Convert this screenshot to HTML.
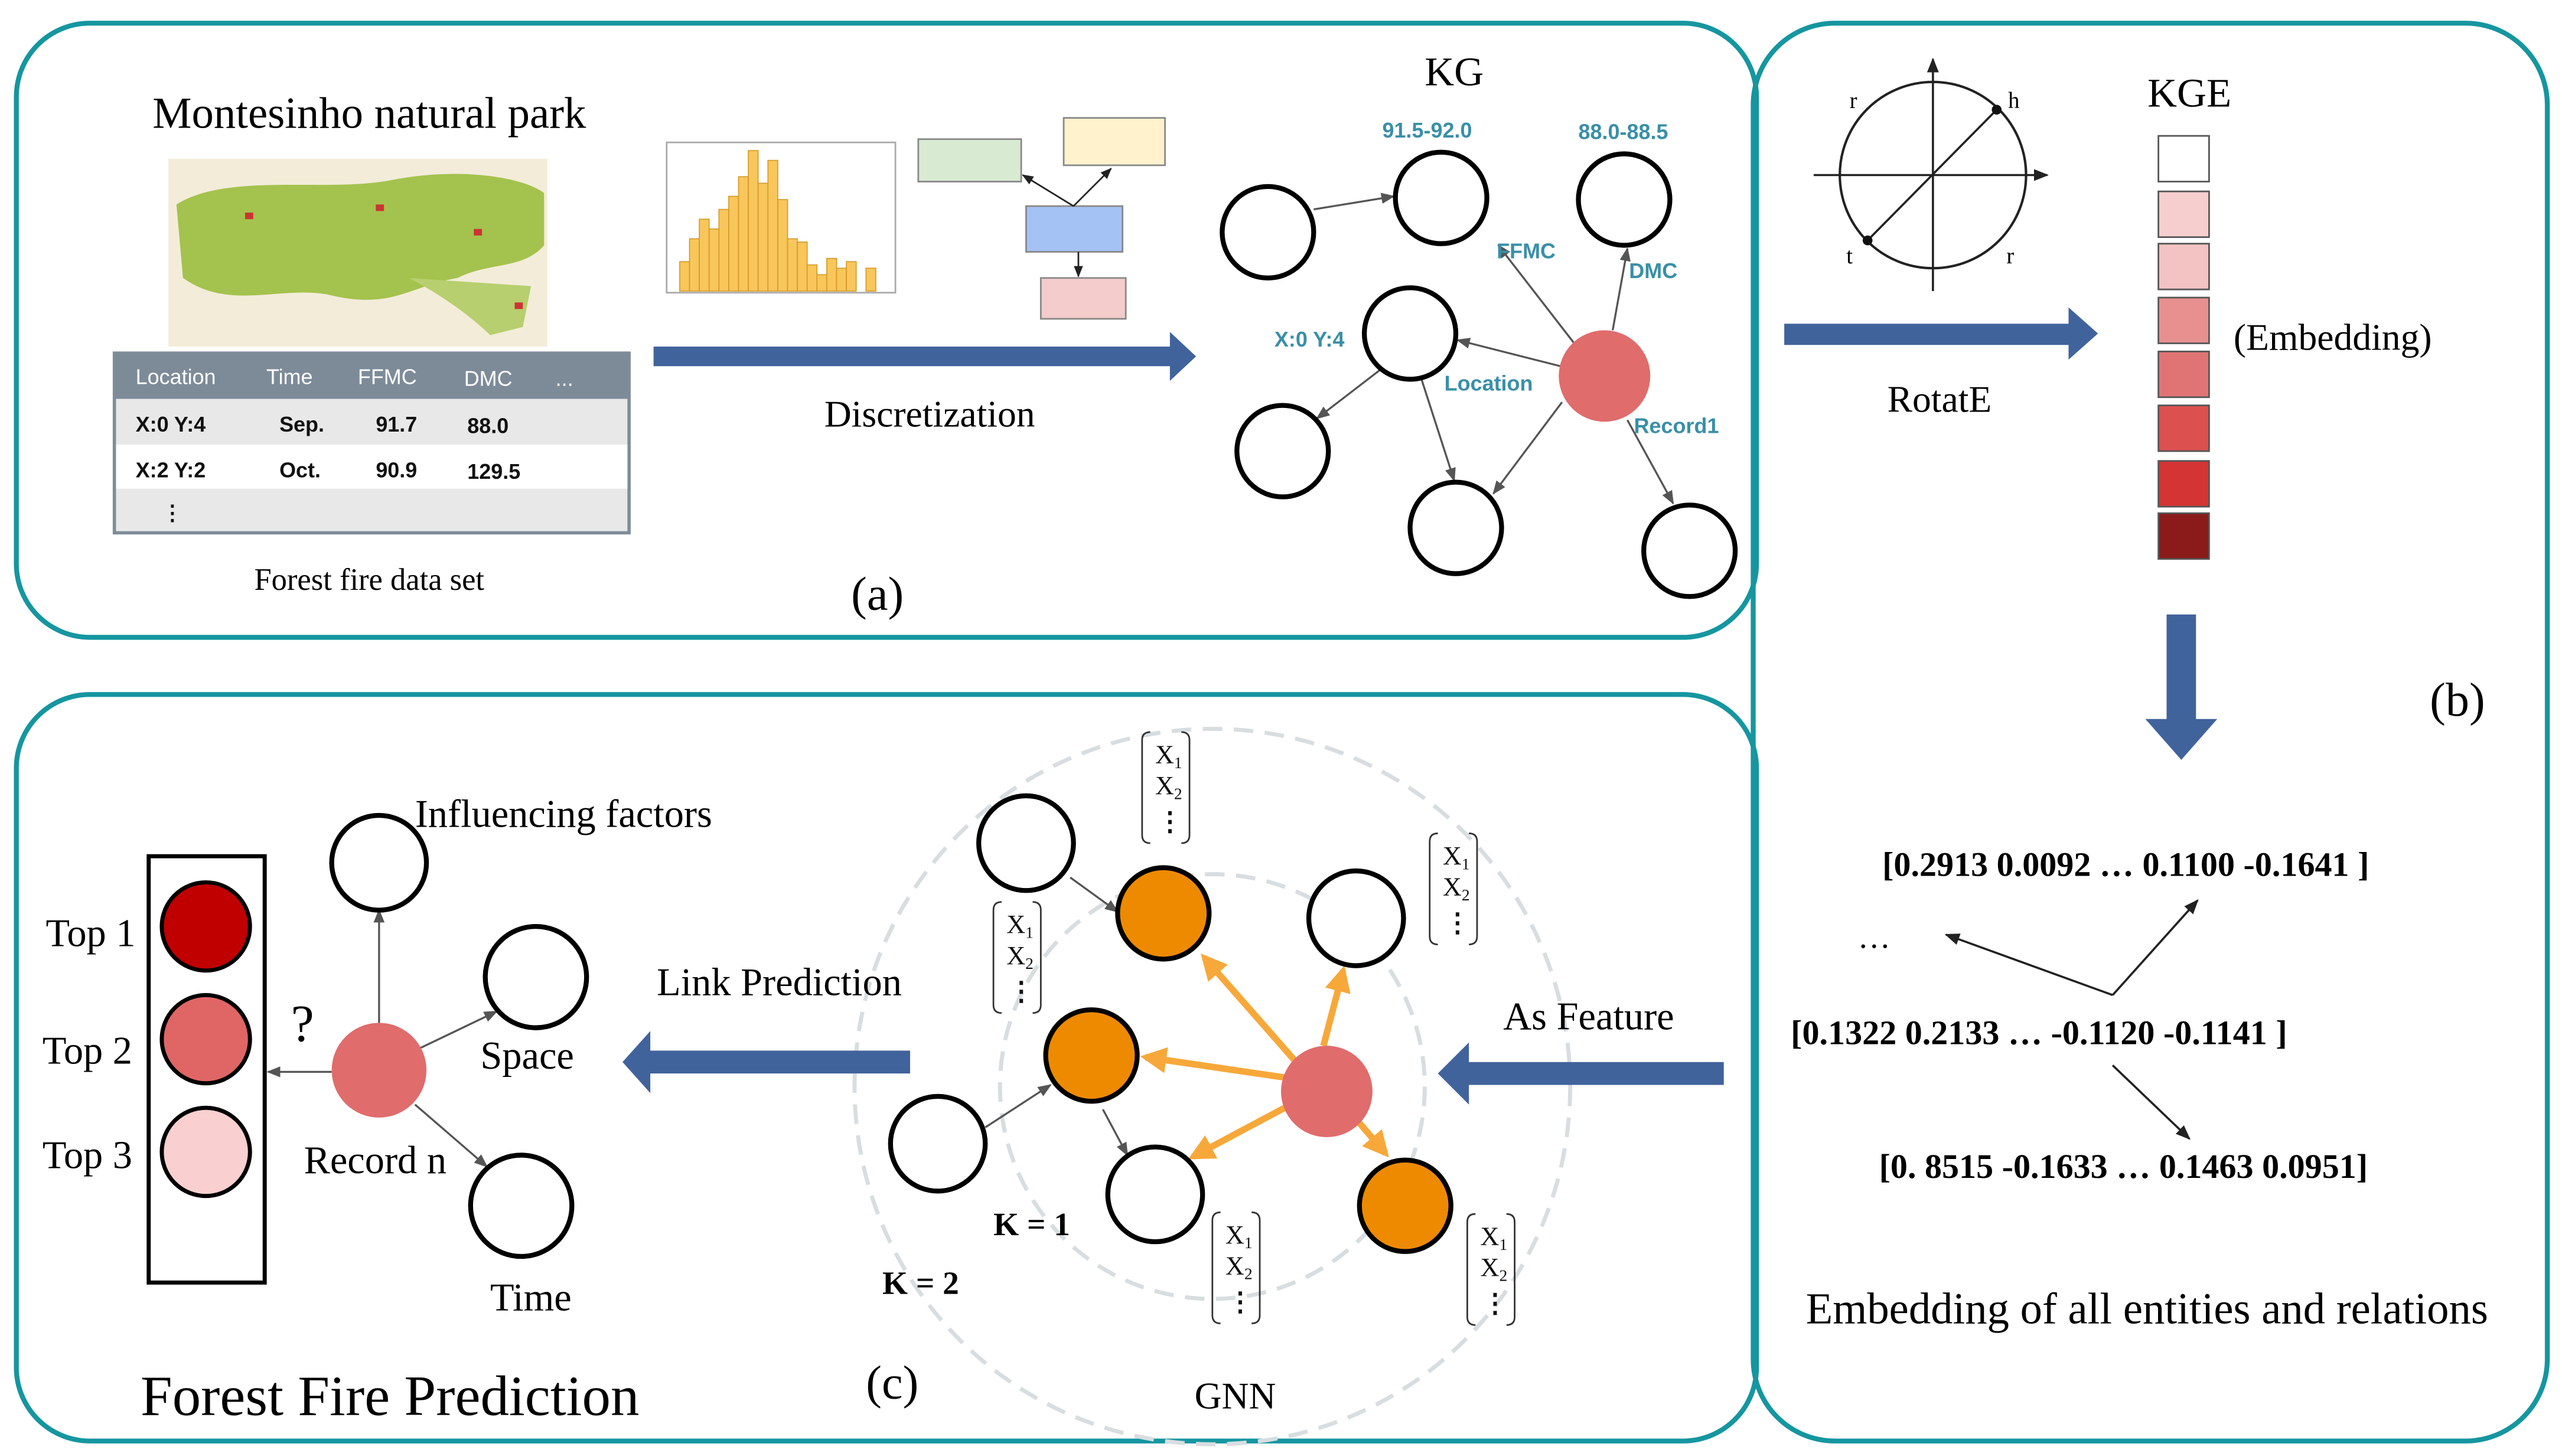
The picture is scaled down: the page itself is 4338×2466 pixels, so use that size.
<!DOCTYPE html>
<html><head><meta charset="utf-8"><style>html,body{margin:0;padding:0;background:#fff}svg{display:block}</style></head><body>
<svg width="4338" height="2466" viewBox="0 0 1568 891" xmlns="http://www.w3.org/2000/svg" font-family="'Liberation Serif', serif">
<defs>
<marker id="ag" viewBox="0 0 10 10" refX="9" refY="5" markerWidth="7" markerHeight="7" orient="auto"><path d="M0,1 L10,5 L0,9 z" fill="#555"/></marker>
<marker id="ak" viewBox="0 0 10 10" refX="9" refY="5" markerWidth="7" markerHeight="7" orient="auto"><path d="M0,1 L10,5 L0,9 z" fill="#222"/></marker>
<marker id="ao" viewBox="0 0 10 10" refX="8" refY="5" markerWidth="4" markerHeight="4" orient="auto"><path d="M0,0 L10,5 L0,10 z" fill="#f7a83a"/></marker>
</defs>
<rect x="10" y="14" width="1065" height="376" rx="45" fill="none" stroke="#1596a0" stroke-width="3"/>
<rect x="1073" y="14" width="486" height="868" rx="50" fill="none" stroke="#1596a0" stroke-width="3"/>
<rect x="10" y="425" width="1065" height="457" rx="45" fill="none" stroke="#1596a0" stroke-width="3"/>

<text x="226" y="78" font-size="27" text-anchor="middle">Montesinho natural park</text>
<rect x="103" y="97" width="232" height="115" fill="#f3ecd9"/>
<path d="M108,125 C140,105 200,118 240,110 C280,102 320,108 333,118 L333,150 C320,165 300,160 280,170 C250,175 240,190 200,180 C170,175 140,190 112,170 Z" fill="#a4c24e"/>
<path d="M250,170 C270,180 290,195 300,205 L320,200 L325,175 Z" fill="#b7cf6e"/>
<g fill="#c33"><rect x="150" y="130" width="5" height="4"/><rect x="230" y="125" width="5" height="4"/><rect x="290" y="140" width="5" height="4"/><rect x="315" y="185" width="5" height="4"/></g>
<rect x="70" y="216" width="315" height="110" fill="#e8e8e8" stroke="#7f8c99" stroke-width="2"/>
<rect x="70" y="216" width="315" height="28" fill="#7d8b99"/>
<rect x="71" y="272" width="313" height="27" fill="#fff"/>
<g font-family="'Liberation Sans', sans-serif" font-size="13" fill="#fff"><text x="83" y="235">Location</text><text x="163" y="235">Time</text><text x="219" y="235">FFMC</text><text x="284" y="236">DMC</text><text x="340" y="236">...</text></g>
<g font-family="'Liberation Sans', sans-serif" font-size="13" font-weight="bold" fill="#111"><text x="83" y="264">X:0 Y:4</text><text x="171" y="264">Sep.</text><text x="230" y="264">91.7</text><text x="286" y="265">88.0</text>
<text x="83" y="292">X:2 Y:2</text><text x="171" y="292">Oct.</text><text x="230" y="292">90.9</text><text x="286" y="293">129.5</text><text x="99" y="318">⋮</text></g>
<text x="226" y="361" font-size="19" text-anchor="middle">Forest fire data set</text>
<rect x="408" y="87" width="140" height="92" fill="#fff" stroke="#aaa" stroke-width="1"/>
<g fill="#f8c65a" stroke="#d49a2a" stroke-width="0.6">
<rect x="416" y="160" width="6" height="18"/><rect x="422" y="146" width="6" height="32"/><rect x="428" y="134" width="6" height="44"/><rect x="434" y="140" width="6" height="38"/><rect x="440" y="128" width="6" height="50"/><rect x="446" y="120" width="6" height="58"/><rect x="452" y="108" width="6" height="70"/><rect x="458" y="92" width="6" height="86"/><rect x="464" y="112" width="6" height="66"/><rect x="470" y="98" width="6" height="80"/><rect x="476" y="122" width="6" height="56"/><rect x="482" y="146" width="6" height="32"/><rect x="488" y="148" width="6" height="30"/><rect x="494" y="162" width="6" height="16"/><rect x="500" y="168" width="6" height="10"/><rect x="506" y="158" width="6" height="20"/><rect x="512" y="164" width="6" height="14"/><rect x="518" y="160" width="6" height="18"/><rect x="530" y="164" width="6" height="14"/></g>
<rect x="562" y="85" width="63" height="26" fill="#d9ead3" stroke="#888"/>
<rect x="651" y="72" width="62" height="29" fill="#fff2cc" stroke="#888"/>
<rect x="628" y="126" width="59" height="28" fill="#a4c2f4" stroke="#888"/>
<rect x="637" y="170" width="52" height="25" fill="#f4cccc" stroke="#888"/>
<line x1="657" y1="126" x2="626" y2="107" stroke="#222" marker-end="url(#ak)"/>
<line x1="657" y1="126" x2="680" y2="103" stroke="#222" marker-end="url(#ak)"/>
<line x1="660" y1="154" x2="660" y2="169" stroke="#222" marker-end="url(#ak)"/>
<rect x="400" y="212" width="318" height="12" fill="#41639c"/><path d="M716,203 L732,218 L716,233 Z" fill="#41639c"/>
<text x="569" y="261" font-size="23" text-anchor="middle">Discretization</text>
<text x="537" y="373" font-size="29" text-anchor="middle">(a)</text>
<text x="890" y="52" font-size="25" text-anchor="middle">KG</text>
<g stroke="#555" stroke-width="1.2" marker-end="url(#ag)">
<line x1="804" y1="128" x2="853" y2="120"/>
<line x1="965" y1="212" x2="917" y2="150"/>
<line x1="987" y1="202" x2="996" y2="152"/>
<line x1="955" y1="224" x2="892" y2="208"/>
<line x1="956" y1="246" x2="914" y2="302"/>
<line x1="996" y1="257" x2="1024" y2="308"/>
<line x1="845" y1="226" x2="806" y2="256"/>
<line x1="870" y1="232" x2="890" y2="294"/>
</g>
<g fill="#fff" stroke="#000" stroke-width="3">
<circle cx="776" cy="142" r="28"/><circle cx="882" cy="121" r="28"/><circle cx="994" cy="122" r="28"/><circle cx="863" cy="204" r="28"/><circle cx="785" cy="276" r="28"/><circle cx="891" cy="323" r="28"/><circle cx="1034" cy="337" r="28"/></g>
<circle cx="982" cy="230" r="28" fill="#e06c6c"/>
<g font-family="'Liberation Sans', sans-serif" font-size="13" font-weight="bold" fill="#3a8fa8">
<text x="846" y="84">91.5-92.0</text><text x="966" y="85">88.0-88.5</text><text x="916" y="158">FFMC</text><text x="997" y="170">DMC</text><text x="780" y="212">X:0 Y:4</text><text x="884" y="239">Location</text><text x="1000" y="265">Record1</text></g>

<circle cx="1183" cy="107" r="57" fill="none" stroke="#222" stroke-width="1.5"/>
<line x1="1110" y1="107" x2="1253" y2="107" stroke="#222" stroke-width="1.3" marker-end="url(#ak)"/>
<line x1="1183" y1="178" x2="1183" y2="36" stroke="#222" stroke-width="1.3" marker-end="url(#ak)"/>
<line x1="1143" y1="147" x2="1222" y2="67" stroke="#222" stroke-width="1.3"/>
<circle cx="1222" cy="67" r="3" fill="#111"/><circle cx="1143" cy="147" r="3" fill="#111"/>
<g font-size="14"><text x="1132" y="66">r</text><text x="1229" y="66">h</text><text x="1130" y="161">t</text><text x="1228" y="161">r</text></g>
<text x="1340" y="65" font-size="25" text-anchor="middle">KGE</text>
<g stroke="#555" stroke-width="1">
<rect x="1321" y="83" width="31" height="28" fill="#fff"/>
<rect x="1321" y="117" width="31" height="28" fill="#f6cece"/>
<rect x="1321" y="149" width="31" height="28" fill="#f3c2c2"/>
<rect x="1321" y="182" width="31" height="28" fill="#e89090"/>
<rect x="1321" y="215" width="31" height="28" fill="#e07474"/>
<rect x="1321" y="248" width="31" height="28" fill="#dc5050"/>
<rect x="1321" y="282" width="31" height="28" fill="#d43434"/>
<rect x="1321" y="314" width="31" height="28" fill="#8b1b1b"/></g>
<text x="1367" y="214" font-size="23">(Embedding)</text>
<rect x="1092" y="198" width="176" height="13" fill="#41639c"/><path d="M1266,188 L1284,204 L1266,220 Z" fill="#41639c"/>
<text x="1187" y="252" font-size="23" text-anchor="middle">RotatE</text>
<rect x="1326" y="376" width="18" height="66" fill="#41639c"/><path d="M1313,440 L1357,440 L1335,465 Z" fill="#41639c"/>
<text x="1504" y="438" font-size="29" text-anchor="middle">(b)</text>
<g font-size="21" font-weight="bold">
<text x="1152" y="536">[0.2913 0.0092 … 0.1100 -0.1641 ]</text>
<text x="1096" y="639">[0.1322 0.2133 … -0.1120 -0.1141 ]</text>
<text x="1150" y="721">[0. 8515 -0.1633 … 0.1463 0.0951]</text></g>
<text x="1137" y="580" font-size="20">…</text>
<g stroke="#222" stroke-width="1.3" marker-end="url(#ak)">
<line x1="1293" y1="609" x2="1345" y2="551"/><line x1="1293" y1="609" x2="1191" y2="572"/><line x1="1293" y1="652" x2="1340" y2="697"/></g>
<text x="1314" y="810" font-size="27" text-anchor="middle">Embedding of all entities and relations</text>

<circle cx="742" cy="665" r="219" fill="none" stroke="#d8dde0" stroke-width="2.5" stroke-dasharray="12,7"/>
<circle cx="742" cy="665" r="130" fill="none" stroke="#d8dde0" stroke-width="2.5" stroke-dasharray="12,7"/>
<rect x="91" y="524" width="71" height="261" fill="#fff" stroke="#000" stroke-width="2.5"/>
<g stroke="#000" stroke-width="2.5"><circle cx="126" cy="567" r="27" fill="#c00000"/><circle cx="126" cy="636" r="27" fill="#e06666"/><circle cx="126" cy="705" r="27" fill="#f9cfcf"/></g>
<g font-size="24"><text x="28" y="579">Top 1</text><text x="26" y="651">Top 2</text><text x="26" y="715">Top 3</text></g>
<g stroke="#555" stroke-width="1.2" marker-end="url(#ag)">
<line x1="232" y1="626" x2="232" y2="557"/><line x1="203" y1="656" x2="164" y2="656"/><line x1="256" y1="642" x2="304" y2="619"/><line x1="254" y1="676" x2="298" y2="714"/></g>
<g fill="#fff" stroke="#000" stroke-width="3"><circle cx="232" cy="528" r="29"/><circle cx="328" cy="598" r="31"/><circle cx="319" cy="738" r="31"/></g>
<circle cx="232" cy="655" r="29" fill="#e06c6c"/>
<g font-size="24"><text x="254" y="506">Influencing factors</text><text x="178" y="637" font-size="32">?</text><text x="294" y="654">Space</text><text x="186" y="718">Record n</text><text x="300" y="802">Time</text><text x="402" y="609">Link Prediction</text><text x="920" y="630">As Feature</text></g>
<text x="86" y="866" font-size="35">Forest Fire Prediction</text>
<text x="530" y="856" font-size="29">(c)</text>
<text x="756" y="862" font-size="23" text-anchor="middle">GNN</text>
<rect x="396" y="643" width="161" height="14" fill="#41639c"/><path d="M398,631 L381,650 L398,669 Z" fill="#41639c"/>
<rect x="897" y="650" width="158" height="14" fill="#41639c"/><path d="M899,638 L880,657 L899,676 Z" fill="#41639c"/>
<g stroke="#555" stroke-width="1.2" marker-end="url(#ag)">
<line x1="655" y1="537" x2="684" y2="558"/><line x1="603" y1="690" x2="643" y2="664"/><line x1="675" y1="679" x2="690" y2="707"/></g>
<g stroke="#f7a83a" stroke-width="4" marker-end="url(#ao)">
<line x1="795" y1="652" x2="737" y2="586"/><line x1="790" y1="660" x2="701" y2="647"/><line x1="790" y1="676" x2="730" y2="708"/><line x1="810" y1="640" x2="822" y2="594"/><line x1="830" y1="685" x2="848" y2="706"/></g>
<g fill="#fff" stroke="#000" stroke-width="3"><circle cx="628" cy="516" r="29"/><circle cx="830" cy="562" r="29"/><circle cx="574" cy="700" r="29"/><circle cx="707" cy="731" r="29"/></g>
<g fill="#ee8a00" stroke="#000" stroke-width="3"><circle cx="712" cy="559" r="28"/><circle cx="668" cy="646" r="28"/><circle cx="860" cy="738" r="28"/></g>
<circle cx="812" cy="668" r="28" fill="#e06c6c"/>
<g font-size="20" font-weight="bold"><text x="608" y="756">K = 1</text><text x="540" y="792">K = 2</text></g>
<g font-size="16" fill="#111">
<g transform="translate(699,448)"><path d="M5,0 Q0,0 0,5 L0,63 Q0,68 5,68 M24,0 Q29,0 29,5 L29,63 Q29,68 24,68" fill="none" stroke="#333"/><text x="8" y="19">X<tspan font-size="10" dy="3">1</tspan></text><text x="8" y="38">X<tspan font-size="10" dy="3">2</tspan></text><text x="9" y="60" font-weight="bold">⋮</text></g>
<g transform="translate(608,552)"><path d="M5,0 Q0,0 0,5 L0,63 Q0,68 5,68 M24,0 Q29,0 29,5 L29,63 Q29,68 24,68" fill="none" stroke="#333"/><text x="8" y="19">X<tspan font-size="10" dy="3">1</tspan></text><text x="8" y="38">X<tspan font-size="10" dy="3">2</tspan></text><text x="9" y="60" font-weight="bold">⋮</text></g>
<g transform="translate(875,510)"><path d="M5,0 Q0,0 0,5 L0,63 Q0,68 5,68 M24,0 Q29,0 29,5 L29,63 Q29,68 24,68" fill="none" stroke="#333"/><text x="8" y="19">X<tspan font-size="10" dy="3">1</tspan></text><text x="8" y="38">X<tspan font-size="10" dy="3">2</tspan></text><text x="9" y="60" font-weight="bold">⋮</text></g>
<g transform="translate(742,742)"><path d="M5,0 Q0,0 0,5 L0,63 Q0,68 5,68 M24,0 Q29,0 29,5 L29,63 Q29,68 24,68" fill="none" stroke="#333"/><text x="8" y="19">X<tspan font-size="10" dy="3">1</tspan></text><text x="8" y="38">X<tspan font-size="10" dy="3">2</tspan></text><text x="9" y="60" font-weight="bold">⋮</text></g>
<g transform="translate(898,743)"><path d="M5,0 Q0,0 0,5 L0,63 Q0,68 5,68 M24,0 Q29,0 29,5 L29,63 Q29,68 24,68" fill="none" stroke="#333"/><text x="8" y="19">X<tspan font-size="10" dy="3">1</tspan></text><text x="8" y="38">X<tspan font-size="10" dy="3">2</tspan></text><text x="9" y="60" font-weight="bold">⋮</text></g>
</g>
</svg>
</body></html>
